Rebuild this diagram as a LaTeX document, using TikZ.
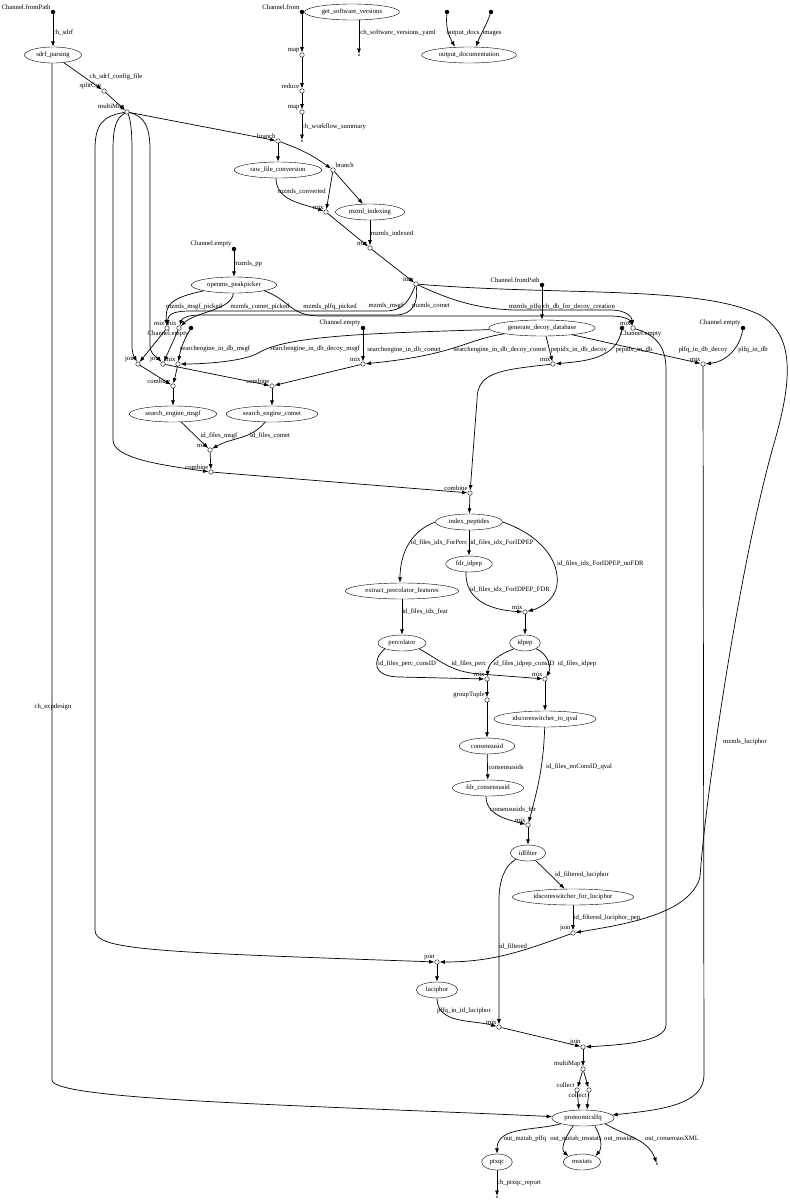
\documentclass[tikz,border=0pt]{standalone}
\usepackage{fontspec}
\setmainfont{Liberation Serif}
\usetikzlibrary{arrows.meta,shapes.geometric}
\newcommand{\fsz}{\fontsize{6.7}{8}\selectfont}
\tikzset{>={Latex[length=5.5pt,width=4pt]}}
\tikzset{
  proc/.style={draw, ellipse, minimum height=16pt, inner xsep=3.4pt, inner ysep=1pt, font=\fsz},
  op/.style={draw, circle, fill=white, minimum size=4.5pt, inner sep=0pt},
  src/.style={fill, circle, minimum size=4.5pt, inner sep=0pt},
  endpt/.style={fill, circle, minimum size=1.6pt, inner sep=0pt},
  lbl/.style={font=\fsz, inner sep=0.6pt},
  elbl/.style={font=\fsz, inner sep=0pt},
  flow/.style={->, line width=0.7pt},
}
\begin{document}
\begin{tikzpicture}[x=1pt,y=1pt]
\path[use as bounding box] (0,0) rectangle (790,-1200);

% sources
\node[src,label={[lbl]above left:Channel.fromPath}] (fromPath) at (53,-12) {};
\node[src,label={[lbl]above left:Channel.from}] (chFrom) at (302,-12) {};
\node[src] (docsIn) at (447,-12) {};
\node[src] (imagesIn) at (491,-12) {};
\node[src,label={[lbl]above left:Channel.empty}] (emptyPP) at (234,-249) {};
\node[src,label={[lbl]below left:Channel.empty}] (emptyMsgf) at (191,-328) {};
\node[src,label={[lbl]above left:Channel.empty}] (emptyComet) at (363,-328) {};
\node[src,label={[lbl]above left:Channel.fromPath}] (fastaIn) at (542,-285) {};
\node[src,label={[lbl,xshift=-4pt]below right:Channel.empty}] (emptyPep) at (622,-328) {};
\node[src,label={[lbl]above left:Channel.empty}] (emptyPlfq) at (743,-328) {};

% processes
\node[proc] (sdrf) at (53,-55) {sdrf\_parsing};
\node[proc] (swver) at (352,-12) {get\_software\_versions};
\node[proc] (outdoc) at (469,-55) {output\_documentation};
\node[proc] (rawconv) at (278,-170) {raw\_file\_conversion};
\node[proc] (mzmlidx) at (370,-212) {mzml\_indexing};
\node[proc] (peakpick) at (234,-285) {openms\_peakpicker};
\node[proc] (decoy) at (542,-328) {generate\_decoy\_database};
\node[proc] (semsgf) at (173,-414) {search\_engine\_msgf};
\node[proc] (secomet) at (272,-414) {search\_engine\_comet};
\node[proc] (idxpep) at (469,-522) {index\_peptides};
\node[proc] (fdridpep) at (469,-564) {fdr\_idpep};
\node[proc] (extract) at (402,-591) {extract\_percolator\_features};
\node[proc] (perc) at (402,-643) {percolator};
\node[proc] (idpep) at (525,-643) {idpep};
\node[proc] (qval) at (545,-719) {idscoreswitcher\_to\_qval};
\node[proc] (consid) at (487,-746) {consensusid};
\node[proc] (fdrcons) at (488,-788) {fdr\_consensusid};
\node[proc] (idfilter) at (528,-853) {idfilter};
\node[proc] (islucip) at (573,-897) {idscoreswitcher\_for\_luciphor};
\node[proc] (luciphor) at (437,-990) {luciphor};
\node[proc] (plfq) at (583,-1118) {proteomicslfq};
\node[proc] (ptxqc) at (497,-1162) {ptxqc};
\node[proc] (msstats) at (582,-1162) {msstats};

% operators
\node[op,label={[lbl]above left:splitCsv}] (splitCsv) at (104,-91) {};
\node[op,label={[lbl]above left:multiMap}] (multiMap) at (127,-112) {};
\node[op,label={[lbl]above left:map}] (map1) at (302,-55) {};
\node[op,label={[lbl]above left:reduce}] (reduce) at (302,-91) {};
\node[op,label={[lbl]above left:map}] (map2) at (302,-112) {};
\node[op,label={[lbl]above left:branch}] (branch1) at (278,-141) {};
\node[op,label={[lbl]above right:branch}] (branch2) at (333,-170) {};
\node[op,label={[lbl]above left:mix}] (mixConv) at (326,-212) {};
\node[op,label={[lbl]above left:mix}] (mixIdx) at (370,-248) {};
\node[op,label={[lbl]above left:into}] (into) at (416,-284) {};
\node[op,label={[lbl]above left:mix}] (mixMsgf) at (167,-328) {};
\node[op,label={[lbl]above left:mix}] (mixComet) at (179,-328) {};
\node[op,label={[lbl]above left:mix}] (mixPlfq) at (633,-328) {};
\node[op,label={[lbl]above left:join}] (joinMsgf) at (138,-364) {};
\node[op,label={[lbl]above left:join}] (joinComet) at (163,-364) {};
\node[op,label={[lbl]above left:mix}] (mixDbMsgf) at (178,-364) {};
\node[op,label={[lbl]above left:mix}] (mixDbComet) at (363,-364) {};
\node[op,label={[lbl]above left:mix}] (mixPepidx) at (553,-364) {};
\node[op,label={[lbl]above left:mix}] (mixDbPlfq) at (703,-364) {};
\node[op,label={[lbl]above left:combine}] (combMsgf) at (173,-386) {};
\node[op,label={[lbl]above left:combine}] (combComet) at (272,-386) {};
\node[op,label={[lbl]above left:mix}] (mixIds) at (210,-450) {};
\node[op,label={[lbl]above left:combine}] (combIds) at (211,-472) {};
\node[op,label={[lbl]above left:combine}] (combIdx) at (470,-493) {};
\node[op,label={[lbl]above left:mix}] (mixIdpep) at (525,-612) {};
\node[op,label={[lbl]above left:mix}] (mixCons) at (487,-679) {};
\node[op,label={[lbl]above left:mix}] (mixQval) at (545,-679) {};
\node[op,label={[lbl]above left:groupTuple}] (groupTuple) at (487,-700) {};
\node[op,label={[lbl]above left:mix}] (mixFdr) at (528,-825) {};
\node[op,label={[lbl]above left:join}] (joinPep) at (573,-933) {};
\node[op,label={[lbl]above left:join}] (joinLuc) at (437,-962) {};
\node[op,label={[lbl]above left:mix}] (mixLuc) at (499,-1027) {};
\node[op,label={[lbl]above left:join}] (joinQuant) at (583,-1047) {};
\node[op,label={[lbl]above left:multiMap}] (multiMap2) at (583,-1069) {};
\node[op,label={[lbl]above left:collect}] (collect1) at (577,-1090) {};
\node[op,label={[lbl]below left:collect}] (collect2) at (589,-1090) {};

% open ends
\node[endpt] (swEnd) at (359,-55) {};
\node[endpt] (sumEnd) at (302,-141) {};
\node[endpt] (xmlEnd) at (657,-1164) {};
\node[endpt] (ptxqcEnd) at (497,-1197) {};

% top of the pipeline
\draw[flow] (fromPath) -- (sdrf);
\draw[flow] (sdrf) -- (splitCsv);
\draw[flow] (splitCsv) -- (multiMap);
\draw[flow] (chFrom) -- (map1);
\draw[flow] (map1) -- (reduce);
\draw[flow] (reduce) -- (map2);
\draw[flow] (map2) -- (sumEnd);
\draw[flow] (swver.south -| swEnd) -- (swEnd);
\draw[flow] (docsIn) to[out=-95,in=120] ([xshift=-14pt]outdoc.north);
\draw[flow] (imagesIn) to[out=-110,in=70] ([xshift=7pt]outdoc.north);
\draw[flow] (multiMap) -- (branch1);
\draw[flow] (branch1) -- (rawconv);
\draw[flow] (branch1) to[bend left=8] (branch2);
\draw[flow] (branch2) -- (mzmlidx);
\draw[flow] (branch2) -- (mixConv);
\draw[flow] ([xshift=-2pt]rawconv.south) to[out=-90,in=160] (mixConv);
\draw[flow] (mixConv) -- (mixIdx);
\draw[flow] (mzmlidx) -- (mixIdx);
\draw[flow] (mixIdx) -- (into);
\draw[flow] (emptyPP) -- (peakpick);

% multiMap fan
\draw[flow] (multiMap) .. controls (102,-116) and (95,-125) .. (95,-150) -- (95,-930)
  .. controls (95,-950) and (150,-952) .. (joinLuc);
\draw[flow] (multiMap) .. controls (116,-118) and (113,-128) .. (113,-150) -- (113,-440)
  .. controls (113,-458) and (160,-465) .. (combIds);
\draw[flow] (multiMap) .. controls (130,-118) and (132,-128) .. (132,-150) -- (132,-345)
  .. controls (132,-355) and (135,-358) .. (joinMsgf);
\draw[flow] (multiMap) .. controls (145,-116) and (150,-128) .. (150,-150) -- (150,-345)
  .. controls (150,-355) and (158,-358) .. (joinComet);

% into and peak picking
\draw[flow] (into) .. controls (410,-298) and (405,-311) .. (385,-311) -- (190,-311)
  .. controls (172,-311) and (168,-315) .. (mixMsgf);
\draw[flow] (into) .. controls (418,-300) and (415,-315) .. (395,-315) -- (200,-315)
  .. controls (188,-315) and (182,-318) .. (mixComet);
\draw[flow] (into) .. controls (450,-300) and (480,-310) .. (520,-310) -- (610,-310)
  .. controls (628,-310) and (632,-318) .. (mixPlfq);
\draw[flow] (into) .. controls (560,-296) and (700,-285) .. (760,-315)
  .. controls (795,-335) and (792,-380) .. (775,-440)
  .. controls (740,-560) and (705,-800) .. (700,-877)
  .. controls (690,-915) and (620,-925) .. (joinPep);
\draw[flow] (peakpick.south west) .. controls (170,-298) and (165,-305) .. (mixMsgf);
\draw[flow] (peakpick) .. controls (232,-310) and (195,-312) .. (mixComet);
\draw[flow] (peakpick.south east) .. controls (290,-300) and (290,-316) .. (320,-316) -- (610,-316)
  .. controls (625,-316) and (630,-320) .. (mixPlfq);

% databases
\draw[flow] (fastaIn) -- (decoy);
\draw[flow] (emptyMsgf) to[out=-120,in=80] (mixDbMsgf);
\draw[flow] (decoy) .. controls (380,-333) and (290,-335) .. (260,-352)
  .. controls (245,-362) and (200,-364) .. (mixDbMsgf);
\draw[flow] (emptyComet) -- (mixDbComet);
\draw[flow] (decoy.south west) .. controls (465,-340) and (455,-355) .. (mixDbComet);
\draw[flow] ([xshift=4pt]decoy.south) -- (mixPepidx);
\draw[flow] (emptyPep) to[out=-100,in=5] (mixPepidx);
\draw[flow] (decoy) -- (mixDbPlfq);
\draw[flow] (emptyPlfq) to[out=-100,in=5] (mixDbPlfq);

% search engines
\draw[flow] (mixMsgf) -- (joinMsgf);
\draw[flow] (mixComet) -- (joinComet);
\draw[flow] (joinMsgf) -- (combMsgf);
\draw[flow] (mixDbMsgf) -- (combMsgf);
\draw[flow] (joinComet) -- (combComet);
\draw[flow] (mixDbComet) -- (combComet);
\draw[flow] (combMsgf) -- (semsgf);
\draw[flow] (combComet) -- (secomet);
\draw[flow] (semsgf) -- (mixIds);
\draw[flow] (secomet) to[out=-130,in=30] (mixIds);
\draw[flow] (mixIds) -- (combIds);
\draw[flow] (combIds) -- (combIdx);
\draw[flow] (mixPepidx) .. controls (500,-370) and (477,-372) .. (477,-400) -- (combIdx);
\draw[flow] (combIdx) -- (idxpep);

% rescoring
\draw[flow] (idxpep.west) to[out=200,in=90] ([xshift=-2pt]extract.north);
\draw[flow] (idxpep) -- (fdridpep);
\draw[flow] (idxpep.east) .. controls (540,-535) and (560,-560) .. (557,-585)
  .. controls (555,-600) and (540,-608) .. (mixIdpep);
\draw[flow] ([xshift=-3pt]fdridpep.south) .. controls (465,-600) and (490,-610) .. (mixIdpep);
\draw[flow] (extract) -- (perc);
\draw[flow] (mixIdpep) -- (idpep);
\draw[flow] (perc.south west) .. controls (372,-660) and (372,-677) .. (400,-677) -- (mixCons);
\draw[flow] (perc.south east) .. controls (440,-660) and (450,-672) .. (480,-674) -- (mixQval);
\draw[flow] (idpep.south west) to[out=200,in=85] (mixCons);
\draw[flow] (idpep.south east) to[out=-20,in=60] (mixQval);
\draw[flow] (mixCons) -- (groupTuple);
\draw[flow] (groupTuple) -- (consid);
\draw[flow] (mixQval) -- (qval);
\draw[flow] (consid) -- (fdrcons);
\draw[flow] ([xshift=-2pt]fdrcons.south) to[out=-90,in=165] (mixFdr);
\draw[flow] (qval) to[out=-92,in=75] (mixFdr);
\draw[flow] (mixFdr) -- (idfilter);

% luciphor
\draw[flow] (idfilter) -- (islucip);
\draw[flow] (idfilter) .. controls (505,-865) and (499,-880) .. (499,-900) -- (mixLuc);
\draw[flow] (islucip) -- (joinPep);
\draw[flow] (joinPep) to[out=200,in=0] (joinLuc);
\draw[flow] (joinLuc) -- (luciphor);
\draw[flow] (luciphor) to[out=-90,in=165] (mixLuc);
\draw[flow] (mixLuc) -- (joinQuant);
\draw[flow] (mixPlfq) .. controls (655,-335) and (666,-345) .. (666,-370) -- (666,-1025)
  .. controls (666,-1042) and (620,-1045) .. (joinQuant);

% quantification
\draw[flow] (joinQuant) -- (multiMap2);
\draw[flow] (multiMap2) -- (collect1);
\draw[flow] (multiMap2) -- (collect2);
\draw[flow] (collect1) -- ([xshift=-4pt]plfq.north);
\draw[flow] (collect2) -- ([xshift=4pt]plfq.north);
\draw[flow] (mixDbPlfq) -- (704,-1075) .. controls (704,-1105) and (660,-1110) .. (plfq);
\draw[flow] ([xshift=-1pt]sdrf.south) -- (52,-1080) .. controls (52,-1100) and (300,-1105) .. (plfq);
\draw[flow] (plfq.south west) to[out=195,in=90] (ptxqc);
\draw[flow] ([xshift=-10pt]plfq.south) to[out=235,in=140] (msstats.north west);
\draw[flow] ([xshift=12pt]plfq.south) to[out=-60,in=50] (msstats.north east);
\draw[flow] (plfq.south east) to[out=-30,in=110] (xmlEnd);
\draw[flow] (ptxqc) -- (ptxqcEnd);

% edge labels
\node[elbl] (lSdrf) at (63,-33) {ch\_sdrf};
\node[elbl] (lSwYaml) at (398,-33) {ch\_software\_versions\_yaml};
\node[elbl] (lDocs) at (463,-33) {output\_docs};
\node[elbl] (lImages) at (492,-33) {images};
\node[elbl] (lConfig) at (116,-77) {ch\_sdrf\_config\_file};
\node[elbl] (lSummary) at (334,-127) {ch\_workflow\_summary};
\node[elbl] (lConv) at (302,-192) {mzmls\_converted};
\node[elbl] (lIndexed) at (392,-234) {mzmls\_indexed};
\node[elbl] (lPP) at (248,-264) {mzmls\_pp};
\node[elbl] (lMsgfPick) at (194,-307) {mzmls\_msgf\_picked};
\node[elbl] (lCometPick) at (260,-307) {mzmls\_comet\_picked};
\node[elbl] (lPlfqPick) at (330,-307) {mzmls\_plfq\_picked};
\node[elbl] (lMsgf) at (386,-306) {mzmls\_msgf};
\node[elbl] (lComet) at (431,-306) {mzmls\_comet};
\node[elbl] (lPlfq) at (525,-307) {mzmls\_plfq};
\node[elbl] (lDbDecoy) at (579,-307) {ch\_db\_for\_decoy\_creation};
\node[elbl] (lSeMsgf) at (215,-349) {searchengine\_in\_db\_msgf};
\node[elbl] (lSeDecMsgf) at (315,-349) {searchengine\_in\_db\_decoy\_msgf};
\node[elbl] (lSeComet) at (404,-350) {searchengine\_in\_db\_comet};
\node[elbl] (lSeDecComet) at (500,-350) {searchengine\_in\_db\_decoy\_comet};
\node[elbl] (lPepDecoy) at (579,-350) {pepidx\_in\_db\_decoy};
\node[elbl] (lPep) at (634,-350) {pepidx\_in\_db};
\node[elbl] (lPlfqDecoy) at (703,-350) {plfq\_in\_db\_decoy};
\node[elbl] (lPlfqDb) at (753,-350) {plfq\_in\_db};
\node[elbl] (lIdMsgf) at (219,-436) {id\_files\_msgf};
\node[elbl] (lIdComet) at (270,-436) {id\_files\_comet};
\node[elbl] (lForPerc) at (439,-543) {id\_files\_idx\_ForPerc};
\node[elbl] (lForIdpep) at (502,-543) {id\_files\_idx\_ForIDPEP};
\node[elbl,anchor=west] (lNoFdr) at (557,-564) {id\_files\_idx\_ForIDPEP\_noFDR};
\node[elbl] (lFdr) at (510,-590) {id\_files\_idx\_ForIDPEP\_FDR};
\node[elbl] (lFeat) at (425,-612) {id\_files\_idx\_feat};
\node[elbl] (lPercCons) at (407,-664) {id\_files\_perc\_consID};
\node[elbl] (lPerc) at (469,-664) {id\_files\_perc};
\node[elbl] (lIdpepCons) at (524,-664) {id\_files\_idpep\_consID};
\node[elbl] (lIdpep) at (577,-664) {id\_files\_idpep};
\node[elbl] (lConsIds) at (506,-767) {consensusids};
\node[elbl,anchor=west] (lNoCons) at (546,-767) {id\_files\_noConsID\_qval};
\node[elbl] (lConsFdr) at (513,-810) {consensusids\_fdr};
\node[elbl] (lFiltLuc) at (582,-875) {id\_filtered\_luciphor};
\node[elbl] (lFiltLucPep) at (607,-918) {id\_filtered\_luciphor\_pep};
\node[elbl] (lFilt) at (513,-947) {id\_filtered};
\node[elbl] (lMzLuc) at (745,-742) {mzmls\_luciphor};
\node[elbl] (lPlfqLuc) at (464,-1011) {plfq\_in\_id\_luciphor};
\node[elbl] (lExpDesign) at (53,-707) {ch\_expdesign};
\node[elbl] (lMztabPlfq) at (525,-1139) {out\_mztab\_plfq};
\node[elbl] (lMztabMs) at (576,-1139) {out\_mztab\_msstats};
\node[elbl] (lMsstats) at (620,-1139) {out\_msstats};
\node[elbl] (lXml) at (672,-1139) {out\_consensusXML};
\node[elbl] (lPtxqc) at (519,-1183) {ch\_ptxqc\_report};

\end{tikzpicture}
\end{document}
